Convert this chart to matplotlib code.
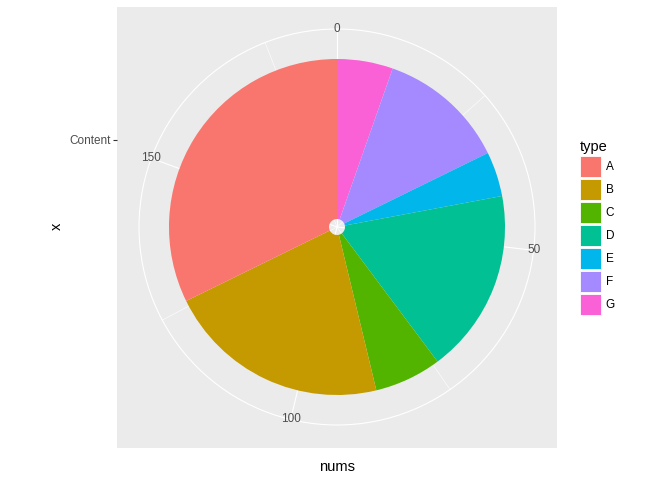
import numpy as np
import matplotlib.pyplot as plt
from matplotlib.patches import Patch

plt.rcParams['font.family'] = ['Liberation Sans', 'DejaVu Sans']

# data
types = ["A", "B", "C", "D", "E", "F", "G"]
nums = [60, 40, 12, 33, 8, 23, 10]
colors = ["#F8766D", "#C49A00", "#53B400", "#00C094", "#00B6EB", "#A58AFF", "#FB61D7"]
theta_major = [0, 50, 100, 150]
theta_minor = [25, 75, 125, 175]
r_label = "Content"

total = sum(nums)
to_rad = lambda v: np.asarray(v, dtype=float) / total * 2 * np.pi

W, H = 672, 480
fig = plt.figure(figsize=(W / 100, H / 100), dpi=100)

# radial mapping (pixels per r unit), like ggplot's discrete r with expansion
r0, r_out = 0.45, 1.6875
px_per_r = 160.0
cx, cy = 337, 227
R = (r_out - r0) * px_per_r

# grey rectangular panel behind the polar plot
pl, pt, pw, ph = 117, 7, 440, 441
bg = fig.add_axes([pl / W, 1 - (pt + ph) / H, pw / W, ph / H])
bg.set_facecolor("#EBEBEB")
for s in bg.spines.values():
    s.set_visible(False)
bg.set_xticks([])
half = ph / 2 / px_per_r
yc = r0 + ((pt + ph / 2) - cy) / px_per_r
bg.set_ylim(yc - half, yc + half)
bg.set_yticks([1.0])
bg.set_yticklabels([r_label])
bg.tick_params(axis="y", length=2.6, width=0.8, color="#333333",
               labelcolor="#4D4D4D", labelsize=8.45, pad=2.1)

# polar plot
ax = fig.add_axes([(cx - R) / W, 1 - (cy + R) / H, 2 * R / W, 2 * R / H],
                  projection="polar")
ax.set_facecolor("none")
ax.set_theta_zero_location("N")
ax.set_theta_direction(-1)
ax.set_axisbelow(True)

# stack order clockwise from 0: G, F, ..., A
order = types[::-1]
vals = [nums[types.index(t)] for t in order]
cols = [colors[types.index(t)] for t in order]
starts = np.concatenate([[0], np.cumsum(vals)[:-1]])
ax.bar(to_rad(starts), 1.0, width=to_rad(vals), bottom=0.5, align="edge",
       color=cols, linewidth=0, zorder=2)

ax.set_ylim(r0, r_out)
ax.set_yticks([])
ax.set_xticks(to_rad(theta_major))
ax.set_xticks(to_rad(theta_minor), minor=True)
ax.set_xticklabels([])
ax.tick_params(axis="x", which="both", length=0)
ax.grid(which="major", axis="x", color="white", linewidth=0.8)
ax.grid(which="minor", axis="x", color="white", linewidth=0.4)
ax.spines["polar"].set_color("white")
ax.spines["polar"].set_linewidth(0.8)

for v in theta_major:
    ax.text(to_rad(v), r_out, str(v), ha="center", va="center",
            fontsize=8.45, color="#4D4D4D")

# axis titles
fig.text(cx / W, 1 - 467 / H, "nums", ha="center", va="center", fontsize=10.56)
fig.text(57 / W, 1 - 226 / H, "x", ha="center", va="center", fontsize=10.56,
         rotation=90)

# legend
handles = [Patch(facecolor=c, edgecolor="white", linewidth=0.6) for c in colors]
leg = fig.legend(handles, types, title="type", loc="upper left",
                 bbox_to_anchor=(580 / W, 1 - 140 / H), frameon=False,
                 fontsize=8.45, title_fontsize=10.56, handlelength=1.8,
                 handleheight=2.38, labelspacing=0.17, handletextpad=0.4,
                 borderpad=0, borderaxespad=0, alignment="left")

fig.savefig("out.png", dpi=100)
